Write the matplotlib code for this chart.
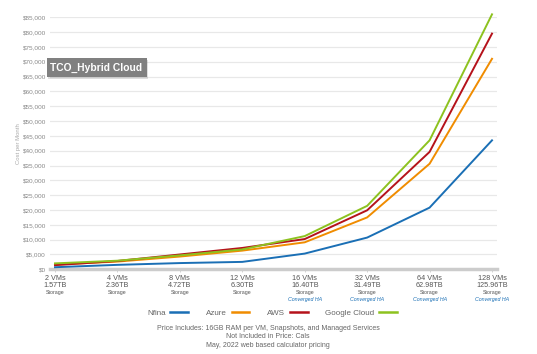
import matplotlib
matplotlib.use("Agg")
import matplotlib.pyplot as plt
from matplotlib.patches import FancyBboxPatch

plt.rcParams['font.family'] = ['Liberation Sans', 'DejaVu Sans']

categories = ["2 VMs", "4 VMs", "8 VMs", "12 VMs", "16 VMs", "32 VMs", "64 VMs", "128 VMs"]
storage = ["1.57TB", "2.36TB", "4.72TB", "6.30TB", "16.40TB", "31.49TB", "62.98TB", "125.96TB"]
converged = [False, False, False, False, True, True, True, True]

nfina = [700, 1500, 2100, 2500, 5300, 10700, 20800, 43500]
azure = [1600, 2600, 4300, 6300, 9100, 17500, 35600, 71000]
aws = [1400, 2800, 5000, 7200, 10200, 19900, 39600, 79500]
google = [2000, 2900, 4700, 6700, 11200, 21400, 43500, 86000]

series = [("Nfina", nfina, "#1a6fb5"), ("Azure", azure, "#f08c00"),
          ("AWS", aws, "#b5121b"), ("Google Cloud", google, "#8dc21f")]

yticks = list(range(0, 85001, 5000))

fig = plt.figure(figsize=(5.37, 3.54), dpi=100)
ax = fig.add_axes([50/537, 1-269.3/354, 447/537, (269.3-17.3)/354])

x = list(range(len(categories)))
for name, vals, col in series:
    ax.plot(x, vals, color=col, lw=1.4, label=name, clip_on=False, zorder=3)

ax.set_xlim(-0.08, len(categories)-1+0.08)
ax.set_ylim(0, 85000)
ax.set_yticks(yticks)
ax.set_yticklabels([f"${v:,}" for v in yticks], fontsize=4.6, color="#888888")
ax.yaxis.grid(True, color="#e8e8e8", lw=0.9)
ax.set_axisbelow(True)
for s in ["top", "right", "left"]:
    ax.spines[s].set_visible(False)
ax.spines["bottom"].set_color("#cccccc")
ax.spines["bottom"].set_linewidth(2.5)
ax.tick_params(axis="y", length=0, pad=3)
ax.set_xticks(x)
ax.set_xticklabels([])
ax.tick_params(axis="x", length=2, color="#cccccc", width=0.6)

ax.set_ylabel("Cost per Month", fontsize=4.3, color="#aaaaaa", labelpad=1)

for i in x:
    ax.annotate(categories[i], xy=(i, 0), xycoords=("data", "axes fraction"),
                xytext=(0, -6.3), textcoords="offset points", ha="center", va="center",
                fontsize=5.2, color="#555555")
    ax.annotate(storage[i], xy=(i, 0), xycoords=("data", "axes fraction"),
                xytext=(0, -11.6), textcoords="offset points", ha="center", va="center",
                fontsize=5.2, color="#555555")
    ax.annotate("Storage", xy=(i, 0), xycoords=("data", "axes fraction"),
                xytext=(0, -16.7), textcoords="offset points", ha="center", va="center",
                fontsize=3.8, color="#555555")
    if converged[i]:
        ax.annotate("Converged HA", xy=(i, 0), xycoords=("data", "axes fraction"),
                    xytext=(0, -21.8), textcoords="offset points", ha="center", va="center",
                    fontsize=3.8, color="#1a6fb5", style="italic")

leg = fig.legend(loc="center", bbox_to_anchor=(272/537, 1-313/354), ncol=4, frameon=False,
                 markerfirst=False, fontsize=5.8, handlelength=2.2, columnspacing=2.2,
                 handletextpad=0.6)
for t in leg.get_texts():
    t.set_color("#666666")
for h in leg.get_lines():
    h.set_linewidth(1.8)

notes = ["Price Includes: 16GB RAM per VM, Snapshots, and Managed Services",
         "Not Included in Price: Cals",
         "May, 2022 web based calculator pricing"]
for k, n in enumerate(notes):
    fig.text(268/537, 1-(328.5+k*8.3)/354, n, ha="center", va="center", fontsize=5.0, color="#666666")

# title box with shadow
sh = FancyBboxPatch((48/537, 1-79/354), 100/537, 19/354, boxstyle="square,pad=0",
                    transform=fig.transFigure, facecolor="#000000", alpha=0.12, edgecolor="none", zorder=9)
fig.patches.append(sh)
box = FancyBboxPatch((47/537, 1-77/354), 100/537, 19/354, boxstyle="square,pad=0",
                     transform=fig.transFigure, facecolor="#808080", edgecolor="none", zorder=10)
fig.patches.append(box)
fig.text(96/537, 1-67.5/354, "TCO_Hybrid Cloud", ha="center", va="center", fontsize=7.4,
         fontweight="bold", color="white", zorder=11)

fig.savefig("out.png", dpi=100)
